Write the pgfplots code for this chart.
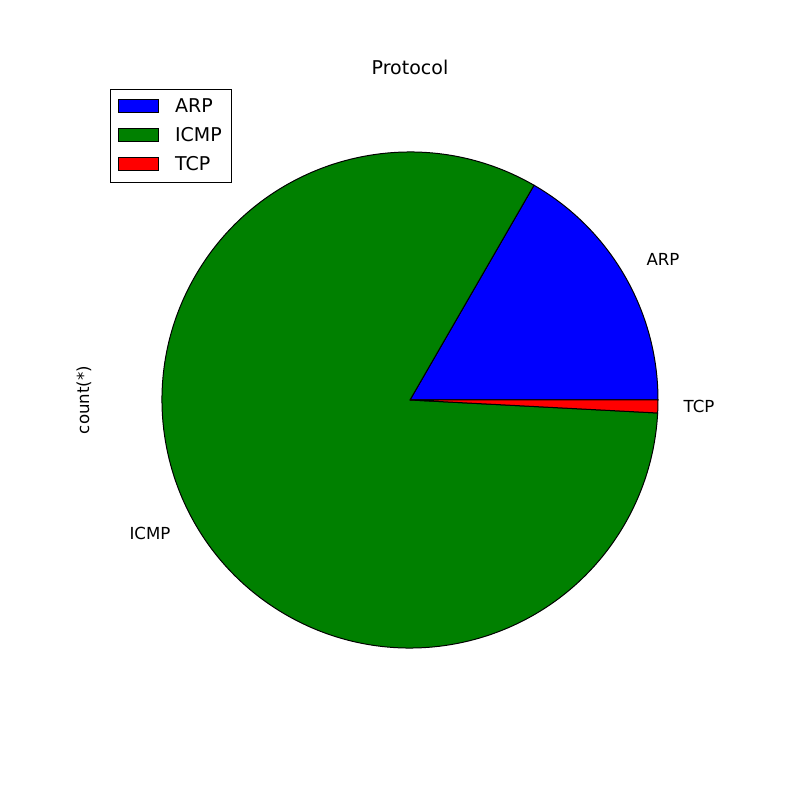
\documentclass[border=0pt]{standalone}
\usepackage{pgfplots}
\pgfplotsset{compat=1.18}
\usepackage{fontspec}
\setmainfont{DejaVu Sans}
\begin{document}
\begin{tikzpicture}
\def\vARP{60}\def\vICMP{297}\def\vTCP{3}
\pgfmathsetmacro\tot{\vARP+\vICMP+\vTCP}
\pgfmathsetmacro\aA{\vARP/\tot*360}
\pgfmathsetmacro\aB{\aA+\vICMP/\tot*360}
\begin{axis}[scale only axis,width=400pt,height=400pt,xmin=0,xmax=800,ymin=0,ymax=800,hide axis,clip=false]
\addplot[draw=none] coordinates {(0,0) (800,800)};
\filldraw[fill=blue,draw=black,line width=0.5pt] (axis cs:410,400) -- (axis cs:658,400) arc[start angle=0,end angle=\aA,radius=124pt] -- cycle;
\filldraw[fill={rgb,255:red,0;green,128;blue,0},draw=black,line width=0.5pt] (axis cs:410,400) -- ++(\aA:124pt) arc[start angle=\aA,end angle=\aB,radius=124pt] -- cycle;
\filldraw[fill=red,draw=black,line width=0.5pt] (axis cs:410,400) -- ++(\aB:124pt) arc[start angle=\aB,end angle=360,radius=124pt] -- cycle;
\node[font=\fontsize{8.3}{10}\selectfont] at (axis cs:663,541) {ARP};
\node[font=\fontsize{8.3}{10}\selectfont] at (axis cs:699,394) {TCP};
\node[font=\fontsize{8.3}{10}\selectfont] at (axis cs:150,267) {ICMP};
\node[font=\fontsize{8.3}{10}\selectfont,rotate=90] at (axis cs:84,400) {count(*)};
\node[font=\fontsize{9.5}{11}\selectfont] at (axis cs:410,733) {Protocol};
\draw[black,line width=0.5pt,fill=white] (axis cs:110,710) rectangle (axis cs:231,617);
\filldraw[fill=blue,draw=black,line width=0.4pt] (axis cs:118,701) rectangle (axis cs:158,688);
\filldraw[fill={rgb,255:red,0;green,128;blue,0},draw=black,line width=0.4pt] (axis cs:118,672) rectangle (axis cs:158,659);
\filldraw[fill=red,draw=black,line width=0.4pt] (axis cs:118,643) rectangle (axis cs:158,630);
\node[anchor=west,font=\fontsize{9.5}{11}\selectfont] at (axis cs:168,694) {ARP};
\node[anchor=west,font=\fontsize{9.5}{11}\selectfont] at (axis cs:168,665) {ICMP};
\node[anchor=west,font=\fontsize{9.5}{11}\selectfont] at (axis cs:168,636) {TCP};
\end{axis}
\end{tikzpicture}
\end{document}
